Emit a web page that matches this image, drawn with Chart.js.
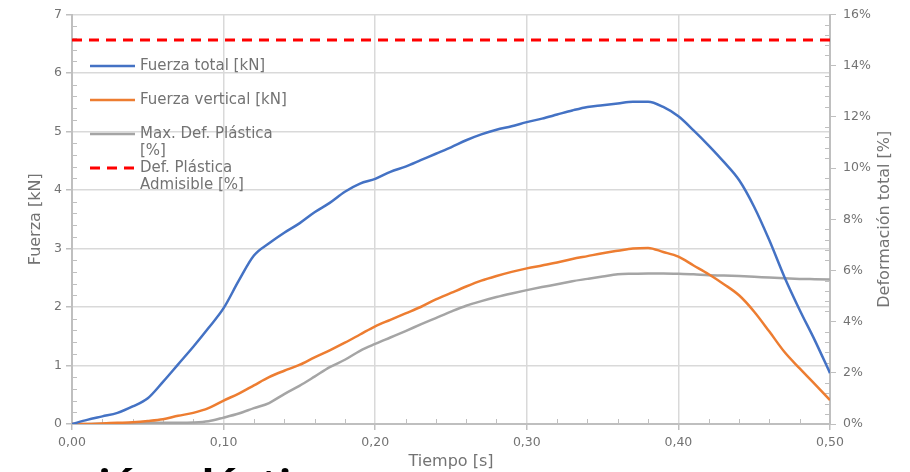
<!DOCTYPE html>
<html>
<head>
<meta charset="utf-8">
<script src="https://cdn.jsdelivr.net/npm/chart.js@4.4.1/dist/chart.umd.min.js"></script>
<style>
    html, body { margin: 0; padding: 0; background: #fff; }
    #wrap { position: relative; width: 910px; height: 472px; overflow: hidden; }
    #chart { position: absolute; left: 0; top: 0; }
    #slideTitle {
        position: absolute; top: 462px; left: 0; white-space: nowrap;
        font: bold 42px "Noto Sans", sans-serif; line-height: 1; color: #000;
    }
</style>
</head>
<body>
<div id="wrap">
    <canvas id="chart" width="910" height="472"></canvas>
    <div id="slideTitle">Deformación plástica</div>
</div>

<script>
    // Datos
    const tiempo = [
        0.00, 0.01, 0.02, 0.03, 0.04, 0.05, 0.06, 0.07, 0.08, 0.09,
        0.10, 0.11, 0.12, 0.13, 0.14, 0.15, 0.16, 0.17, 0.18, 0.19,
        0.20, 0.21, 0.22, 0.23, 0.24, 0.25, 0.26, 0.27, 0.28, 0.29,
        0.30, 0.31, 0.32, 0.33, 0.34, 0.35, 0.36, 0.37, 0.38, 0.39,
        0.40, 0.41, 0.42, 0.43, 0.44, 0.45, 0.46, 0.47, 0.48, 0.49, 0.50
    ];
    const fuerzaTotal = [
        0.00, 0.07, 0.13, 0.19, 0.30, 0.44, 0.72, 1.02, 1.32, 1.64,
        1.98, 2.45, 2.88, 3.09, 3.27, 3.43, 3.62, 3.78, 3.97, 4.11,
        4.19, 4.31, 4.40, 4.51, 4.62, 4.73, 4.85, 4.95, 5.03, 5.09,
        5.16, 5.22, 5.29, 5.36, 5.42, 5.45, 5.48, 5.51, 5.51, 5.42,
        5.26, 5.02, 4.76, 4.48, 4.17, 3.71, 3.14, 2.51, 1.95, 1.43, 0.87
    ];
    const fuerzaVertical = [
        0.00, 0.00, 0.01, 0.02, 0.03, 0.05, 0.08, 0.14, 0.19, 0.27,
        0.40, 0.52, 0.66, 0.80, 0.91, 1.01, 1.14, 1.26, 1.39, 1.53,
        1.67, 1.78, 1.89, 2.00, 2.13, 2.24, 2.35, 2.45, 2.53, 2.60,
        2.66, 2.71, 2.76, 2.82, 2.87, 2.92, 2.96, 3.00, 3.01, 2.94,
        2.86, 2.71, 2.56, 2.39, 2.20, 1.92, 1.58, 1.23, 0.95, 0.68, 0.41
    ];
    const maxDefPlastica = [
        0.00, 0.00, 0.01, 0.02, 0.03, 0.04, 0.05, 0.05, 0.06, 0.11,
        0.25, 0.41, 0.62, 0.82, 1.17, 1.49, 1.85, 2.22, 2.51, 2.86,
        3.13, 3.38, 3.63, 3.89, 4.14, 4.39, 4.62, 4.80, 4.96, 5.10,
        5.23, 5.35, 5.46, 5.58, 5.67, 5.76, 5.85, 5.87, 5.88, 5.88,
        5.87, 5.85, 5.81, 5.80, 5.78, 5.75, 5.72, 5.69, 5.67, 5.66, 5.65
    ];
    const admisibleTiempo = [0.00, 0.50];
    const defAdmisible = [15, 15];

    const legendLines = [
        ['Fuerza total [kN]'],
        ['Fuerza vertical [kN]'],
        ['Max. Def. Plástica', '[%]'],
        ['Def. Plástica', 'Admisible [%]']
    ];

    const TEXT = '#737373';
    const AXIS = '#bfbfbf';
    const GRID = '#d9d9d9';
    const FONT = '"DejaVu Sans", sans-serif';

    const pts = (xs, ys) => xs.map((x, i) => ({ x: x, y: ys[i] }));

    // marcas menores, títulos de ejes y leyenda
    const extras = {
        id: 'extras',
        beforeDatasetsDraw(chart) {
            const { ctx, chartArea: a, scales } = chart;
            ctx.save();
            ctx.strokeStyle = AXIS;
            ctx.lineWidth = 1;
            ctx.beginPath();
            for (let i = 1; i < 35; i++) {
                if (i % 5 === 0) continue;
                const y = Math.round(scales.y.getPixelForValue(i / 5)) + 0.5;
                ctx.moveTo(a.left, y); ctx.lineTo(a.left + 5, y);
            }
            for (let i = 1; i < 40; i++) {
                if (i % 5 === 0) continue;
                const y = Math.round(scales.y1.getPixelForValue(i * 0.4)) + 0.5;
                ctx.moveTo(a.right - 5, y); ctx.lineTo(a.right, y);
            }
            for (let i = 1; i < 25; i++) {
                if (i % 5 === 0) continue;
                const x = Math.round(scales.x.getPixelForValue(i * 0.02)) + 0.5;
                ctx.moveTo(x, a.bottom - 5); ctx.lineTo(x, a.bottom);
            }
            ctx.stroke();
            ctx.restore();
        },
        afterDraw(chart) {
            const { ctx, chartArea: a } = chart;
            ctx.save();
            ctx.fillStyle = TEXT;
            ctx.textAlign = 'center';
            ctx.textBaseline = 'middle';
            ctx.font = '16px ' + FONT;
            ctx.fillText('Tiempo [s]', (a.left + a.right) / 2, 462);

            ctx.save();
            ctx.translate(36, (a.top + a.bottom) / 2);
            ctx.rotate(-Math.PI / 2);
            ctx.fillText('Fuerza [kN]', 0, 0);
            ctx.restore();

            ctx.save();
            ctx.translate(885, (a.top + a.bottom) / 2);
            ctx.rotate(-Math.PI / 2);
            ctx.fillText('Deformación total [%]', 0, 0);
            ctx.restore();

            // leyenda
            ctx.textAlign = 'left';
            ctx.font = '15px ' + FONT;
            chart.data.datasets.forEach((ds, i) => {
                const y = 66 + i * 34;
                ctx.save();
                ctx.strokeStyle = ds.borderColor;
                ctx.lineWidth = ds.borderWidth;
                ctx.setLineDash(ds.borderDash || []);
                ctx.beginPath();
                ctx.moveTo(90, y); ctx.lineTo(135, y);
                ctx.stroke();
                ctx.restore();
                legendLines[i].forEach((t, k) => ctx.fillText(t, 140, y + k * 17));
            });
            ctx.restore();
        }
    };

    new Chart(document.getElementById('chart'), {
        type: 'line',
        data: {
            datasets: [
                {
                    label: 'Fuerza total [kN]', data: pts(tiempo, fuerzaTotal), yAxisID: 'y',
                    borderColor: '#4472C4', borderWidth: 2.5
                },
                {
                    label: 'Fuerza vertical [kN]', data: pts(tiempo, fuerzaVertical), yAxisID: 'y',
                    borderColor: '#ED7D31', borderWidth: 2.5
                },
                {
                    label: 'Max. Def. Plástica [%]', data: pts(tiempo, maxDefPlastica), yAxisID: 'y1',
                    borderColor: '#A5A5A5', borderWidth: 2.5
                },
                {
                    label: 'Def. Plástica Admisible [%]', data: pts(admisibleTiempo, defAdmisible), yAxisID: 'y1',
                    borderColor: '#FF0000', borderWidth: 3, borderDash: [10, 7]
                }
            ]
        },
        options: {
            responsive: false,
            animation: false,
            layout: { padding: { top: 14, left: 0, right: 0, bottom: 0 } },
            elements: {
                point: { radius: 0 },
                line: { tension: 0.4, cubicInterpolationMode: 'monotone', fill: false }
            },
            plugins: { legend: { display: false }, tooltip: { enabled: false } },
            scales: {
                x: {
                    type: 'linear', min: 0, max: 0.5,
                    afterFit: s => { s.height = 48; },
                    ticks: {
                        stepSize: 0.1, padding: 5, color: TEXT,
                        font: { family: FONT, size: 12.5 },
                        callback: v => v.toFixed(2).replace('.', ',')
                    },
                    grid: { color: GRID, lineWidth: 1.5, tickColor: AXIS, tickLength: 6 },
                    border: { color: AXIS, width: 2 }
                },
                y: {
                    position: 'left', min: 0, max: 7,
                    afterFit: s => { s.width = 72; },
                    ticks: { stepSize: 1, padding: 4, color: TEXT, font: { family: FONT, size: 12.5 } },
                    grid: { color: GRID, lineWidth: 1.5, tickColor: AXIS, tickLength: 6 },
                    border: { color: AXIS, width: 2 }
                },
                y1: {
                    position: 'right', min: 0, max: 16,
                    afterFit: s => { s.width = 80; },
                    ticks: {
                        stepSize: 2, padding: 7, color: TEXT, font: { family: FONT, size: 12.5 },
                        callback: v => v + '%'
                    },
                    grid: { drawOnChartArea: false, tickColor: AXIS, tickLength: 6 },
                    border: { color: AXIS, width: 2 }
                }
            }
        },
        plugins: [extras]
    });

    // título de la diapositiva, recortado abajo
    const t = document.getElementById('slideTitle');
    const mc = document.createElement('canvas').getContext('2d');
    mc.font = 'bold 42px "Noto Sans"';
    t.style.left = (104.5 - mc.measureText('Deformac').width - mc.measureText('i').width / 2) + 'px';
</script>
</body>
</html>
